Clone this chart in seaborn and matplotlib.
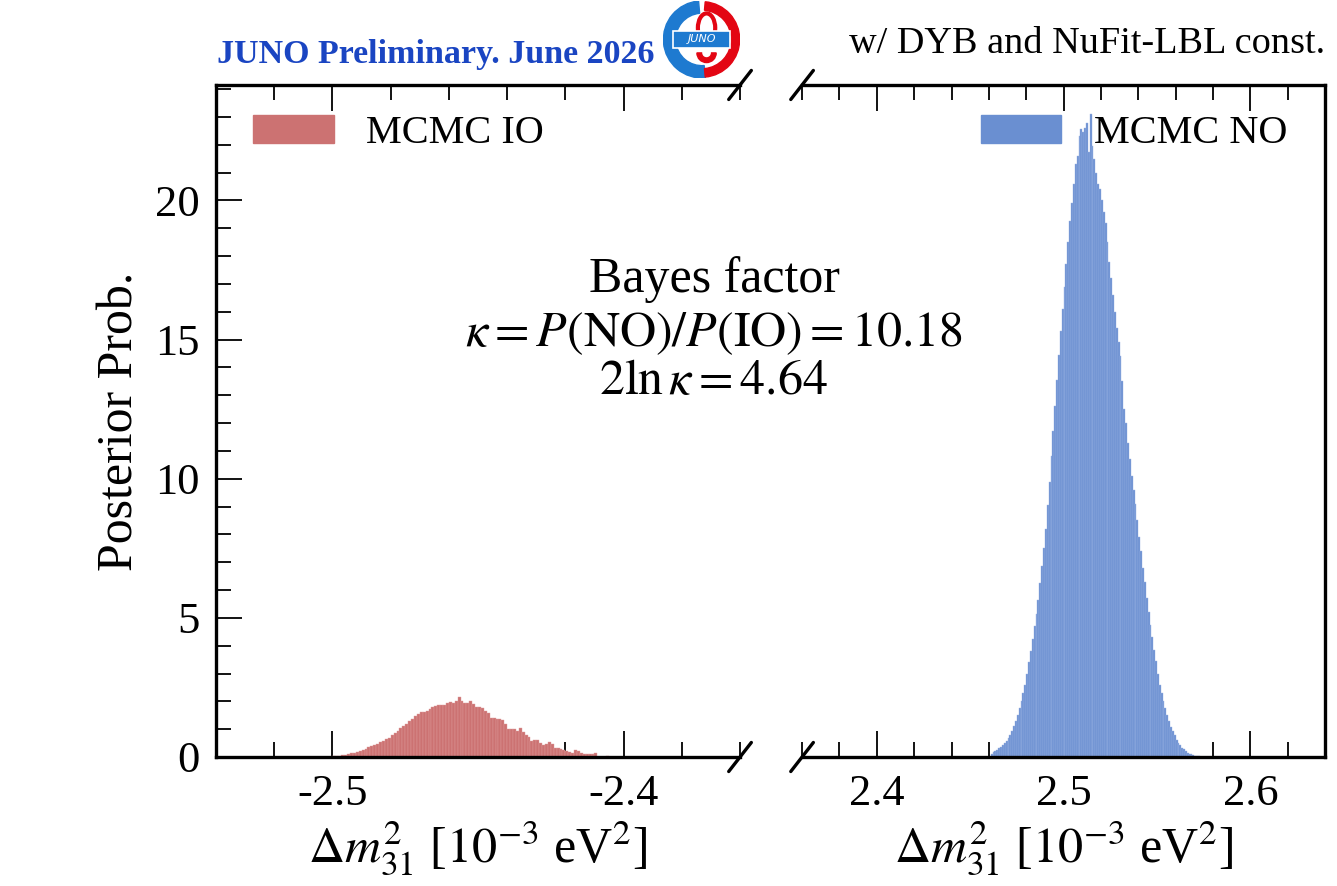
import numpy as np
import pandas as pd
import seaborn as sns
import matplotlib.pyplot as plt
from matplotlib.patches import Patch, Wedge, Ellipse, FancyBboxPatch
from matplotlib.ticker import MultipleLocator

# histogram contents (posterior density per 0.001 bin)
BIN_W = 0.001
io_start = -2.500
io_values = [
    0.03, 0.04, 0.05, 0.06, 0.08, 0.11, 0.13, 0.16, 0.19, 0.22,
    0.26, 0.30, 0.35, 0.39, 0.43, 0.48, 0.53, 0.58, 0.64, 0.69,
    0.80, 0.86, 0.95, 1.03, 1.12, 1.20, 1.29, 1.38, 1.46, 1.55,
    1.60, 1.63, 1.67, 1.71, 1.78, 1.83, 1.86, 1.88, 1.88, 1.95,
    1.96, 1.95, 2.00, 2.17, 2.02, 1.93, 1.95, 2.03, 1.90, 1.81,
    1.79, 1.77, 1.66, 1.59, 1.41, 1.40, 1.38, 1.35, 1.32, 1.17,
    1.02, 1.02, 1.01, 0.95, 1.03, 0.90, 0.78, 0.72, 0.57, 0.62,
    0.60, 0.50, 0.42, 0.47, 0.54, 0.45, 0.34, 0.32, 0.28, 0.26,
    0.22, 0.18, 0.14, 0.24, 0.20, 0.16, 0.10, 0.09, 0.10, 0.12,
    0.13, 0.00, 0.00, 0.00, 0.04,
]
no_start = 2.461
no_values = [
    0.12, 0.17, 0.21, 0.26, 0.31, 0.37, 0.43, 0.50, 0.58, 0.68,
    0.80, 0.95, 1.12, 1.30, 1.52, 1.76, 2.02, 2.30, 2.60, 2.98,
    3.40, 3.82, 4.25, 4.70, 5.15, 5.65, 6.25, 6.85, 7.50, 8.20,
    9.05, 9.90, 10.80, 11.70, 12.60, 13.55, 14.45, 15.30, 16.10, 16.90,
    17.70, 18.50, 19.25, 19.90, 20.60, 21.30, 21.60, 22.30, 22.55, 22.45,
    22.60, 22.80, 21.75, 23.10, 21.95, 21.50, 21.00, 20.60, 20.40, 20.00,
    19.60, 19.20, 18.50, 17.80, 17.20, 16.60, 16.00, 15.40, 14.90, 14.40,
    13.50, 12.50, 12.00, 11.30, 10.70, 10.10, 9.60, 9.10, 8.50, 7.90,
    7.40, 6.80, 6.30, 5.70, 5.20, 4.75, 4.30, 3.85, 3.45, 3.00,
    2.60, 2.30, 2.00, 1.75, 1.50, 1.28, 1.08, 0.92, 0.78, 0.62,
    0.52, 0.42, 0.34, 0.27, 0.21, 0.16, 0.12, 0.09, 0.07, 0.05,
    0.03, 0.02, 0.01,
]

io_color, io_edge = "#CC7272", "#DE9A9A"
no_color, no_edge = "#6A8FD1", "#9BB4E3"

sns.set_style("ticks")
plt.rcParams['font.family'] = ['Liberation Serif', 'DejaVu Serif']
plt.rcParams['mathtext.fontset'] = 'stix'
plt.rcParams['axes.unicode_minus'] = False
for key in ('text.color', 'axes.labelcolor', 'xtick.color', 'ytick.color', 'axes.edgecolor'):
    plt.rcParams[key] = 'black'


def draw_hist(ax, start, values, color, edge):
    n = len(values)
    centers = start + BIN_W * (np.arange(n) + 0.5)
    df = pd.DataFrame({'x': centers, 'w': values})
    sns.histplot(data=df, x='x', weights='w', bins=n,
                 binrange=(start, start + n * BIN_W), stat='count',
                 color=color, edgecolor=edge, linewidth=0.3, alpha=1, ax=ax)


fig = plt.figure(figsize=(13.37, 8.86), dpi=100)
ax1 = fig.add_axes([0.1616, 0.1456, 0.3919, 0.7585])
ax2 = fig.add_axes([0.5999, 0.1456, 0.3912, 0.7585])

draw_hist(ax1, io_start, io_values, io_color, io_edge)
draw_hist(ax2, no_start, no_values, no_color, no_edge)

ax1.set_xlim(-2.54, -2.36)
ax2.set_xlim(2.36, 2.64)
for ax in (ax1, ax2):
    ax.set_ylim(0, 24.15)
    ax.xaxis.set_major_locator(MultipleLocator(0.1))
    ax.xaxis.set_minor_locator(MultipleLocator(0.02))
    ax.yaxis.set_major_locator(MultipleLocator(5))
    ax.yaxis.set_minor_locator(MultipleLocator(1))
    ax.tick_params(which='both', direction='in', top=True, right=False, width=1.3,
                   labelsize=32, pad=12)
    ax.tick_params(which='major', length=19)
    ax.tick_params(which='minor', length=10.5)
    for s in ax.spines.values():
        s.set_linewidth(2.4)
    ax.set_xlabel(r"$\Delta m^2_{31}$ [$10^{-3}$ eV$^2$]", fontsize=36, labelpad=4)

ax1.spines['right'].set_visible(False)
ax1.tick_params(which='both', left=True)
ax1.set_ylabel("Posterior Prob.", fontsize=36, labelpad=8)

ax2.spines['left'].set_visible(False)
ax2.tick_params(which='both', left=False, labelleft=False)
ax2.set_ylabel("")

# break marks
d = 0.0216
kw = dict(color='k', clip_on=False, lw=2.4)
ax1.plot([1 - d, 1 + d], [-d, d], transform=ax1.transAxes, **kw)
ax1.plot([1 - d, 1 + d], [1 - d, 1 + d], transform=ax1.transAxes, **kw)
ax2.plot([-d, d], [-d, d], transform=ax2.transAxes, **kw)
ax2.plot([-d, d], [1 - d, 1 + d], transform=ax2.transAxes, **kw)

ax1.legend([Patch(facecolor=io_color, edgecolor=io_color)], ['MCMC IO'],
           loc='upper left', bbox_to_anchor=(0.0706, 0.955), frameon=False,
           fontsize=29, borderpad=0, borderaxespad=0)
ax2.legend([Patch(facecolor=no_color, edgecolor=no_color)], ['MCMC NO'],
           loc='upper right', bbox_to_anchor=(0.927, 0.955), frameon=False,
           fontsize=29, borderpad=0, borderaxespad=0)

# Bayes factor text
fig.text(0.534, 0.684, "Bayes factor", fontsize=36, ha='center', va='center')
fig.text(0.534, 0.623, r"$\kappa = P(\mathrm{NO})/P(\mathrm{IO}) = 10.18$",
         fontsize=36, ha='center', va='center')
fig.text(0.534, 0.569, r"$2\ln\kappa = 4.64$", fontsize=36, ha='center', va='center')

# header texts
fig.text(0.1623, 0.9289, "JUNO Preliminary. June 2026", fontsize=24.5,
         fontweight='bold', color='#1A45C2', ha='left', va='baseline')
fig.text(0.991, 0.9402, "w/ DYB and NuFit-LBL const.", fontsize=27.5,
         ha='right', va='baseline')

# rough JUNO logo
lax = fig.add_axes([0.496, 0.912, 0.058, 0.087])
lax.set_xlim(-1, 1)
lax.set_ylim(-1, 1)
lax.set_aspect('equal')
lax.axis('off')
lax.add_patch(Wedge((0, 0), 1.0, 95, 275, width=0.32, color='#1E7AD0'))
lax.add_patch(Wedge((0, 0), 0.98, -85, 85, width=0.22, color='#E30613'))
lax.add_patch(Ellipse((0.12, 0.3), 0.45, 0.75, fill=False, lw=3, color='#E30613'))
lax.add_patch(Wedge((0.12, -0.35), 0.25, 180, 360, width=0.12, color='#E30613'))
lax.add_patch(FancyBboxPatch((-0.72, -0.2), 1.44, 0.4, boxstyle="square,pad=0.02",
                             facecolor='#1E7AD0', edgecolor='white', lw=1.2))
lax.text(0, 0, "JUNO", color='white', fontsize=8, style='italic',
         family='DejaVu Sans', ha='center', va='center')

fig.savefig("out.png", dpi=100)
